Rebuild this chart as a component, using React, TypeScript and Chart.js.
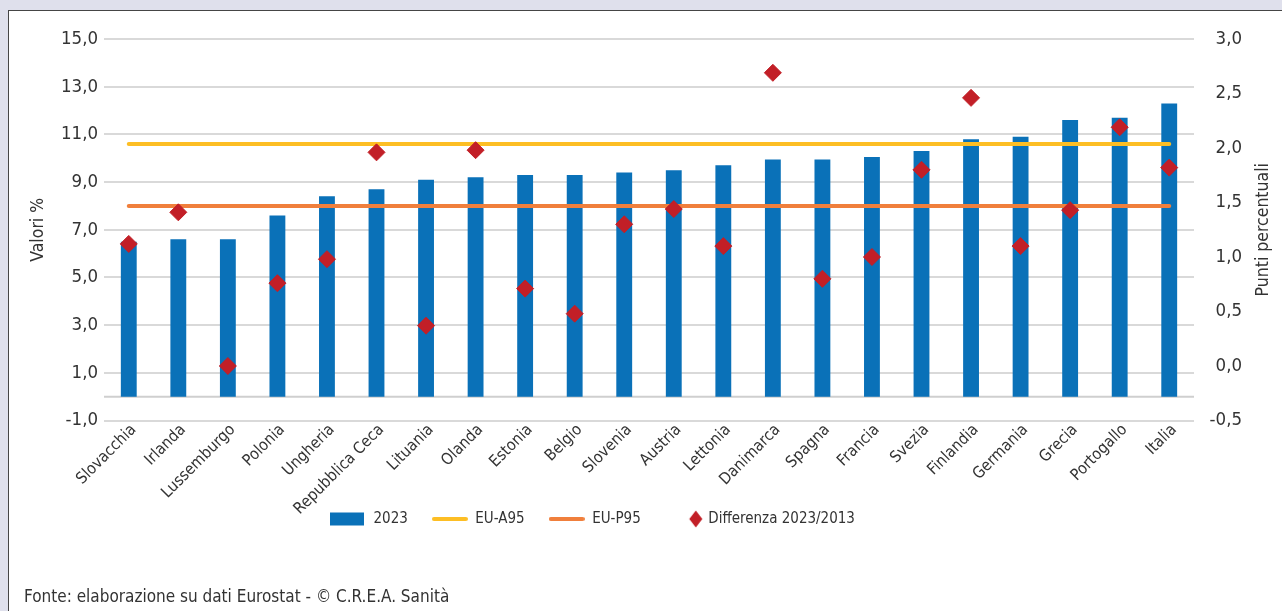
import React, { useEffect, useRef } from "react";
import { Chart, registerables } from "chart.js";

Chart.register(...registerables);

// ---- Data ----
const categories = [
  "Slovacchia", "Irlanda", "Lussemburgo", "Polonia", "Ungheria", "Repubblica Ceca",
  "Lituania", "Olanda", "Estonia", "Belgio", "Slovenia", "Austria", "Lettonia",
  "Danimarca", "Spagna", "Francia", "Svezia", "Finlandia", "Germania", "Grecia",
  "Portogallo", "Italia",
];
const values2023 = [
  6.5, 6.6, 6.6, 7.6, 8.4, 8.7, 9.1, 9.2, 9.3, 9.3, 9.4, 9.5, 9.7,
  9.95, 9.95, 10.05, 10.3, 10.8, 10.9, 11.6, 11.7, 12.3,
];
const diff20232013 = [
  1.12, 1.41, 0.0, 0.76, 0.98, 1.96, 0.37, 1.98, 0.71, 0.48, 1.3, 1.44, 1.1,
  2.69, 0.8, 1.0, 1.8, 2.46, 1.1, 1.43, 2.19, 1.82,
];
const euA95Value = 10.6;
const euP95Value = 8.0;
const legendLabels = ["2023", "EU-A95", "EU-P95", "Differenza 2023/2013"];
const leftAxisTitle = "Valori %";
const rightAxisTitle = "Punti percentuali";
const sourceNote = "Fonte: elaborazione su dati Eurostat - © C.R.E.A. Sanità";

// ---- Styles ----
const FONT = "'DejaVu Sans Condensed', 'Liberation Sans Narrow', 'Arial Narrow', sans-serif";
const TEXT = "#333333";
const BLUE = "#0a71b8";
const YELLOW = "#fdbe24";
const ORANGE = "#f07f3c";
const RED = "#c21f27";
const GRID = "#d9d9d9";

const CANVAS_W = 1273;
const CANVAS_H = 600;
const PLOT_BOTTOM = 409.5;
const LEGEND_FONT = 15;
const LEGEND_PAD = 24;
const LEGEND_START_X = 321;
const LEGEND_CENTER_Y = 508;

const fmt = (v: any) => Number(v).toFixed(1).replace(".", ",");

function makeIcon(kind: string, color: string): HTMLCanvasElement {
  const c = document.createElement("canvas");
  const ctx = c.getContext("2d")!;
  if (kind === "rect") {
    c.width = 36; c.height = 18;
    ctx.fillStyle = color;
    ctx.fillRect(0, 2.5, 34, 13);
  } else if (kind === "line") {
    c.width = 36; c.height = 18;
    ctx.strokeStyle = color;
    ctx.lineWidth = 4;
    ctx.lineCap = "round";
    ctx.beginPath();
    ctx.moveTo(2, 9);
    ctx.lineTo(34, 9);
    ctx.stroke();
  } else {
    c.width = 40; c.height = 20;
    ctx.fillStyle = color;
    ctx.beginPath();
    ctx.moveTo(33, 1.5);
    ctx.lineTo(39.5, 10);
    ctx.lineTo(33, 18.5);
    ctx.lineTo(26.5, 10);
    ctx.closePath();
    ctx.fill();
  }
  return c;
}

const layoutPlugin = {
  id: "customLayout",
  afterLayout(chart: any) {
    const lg = chart.legend;
    if (!lg) return;
    const h = lg.height;
    lg.left = LEGEND_START_X - LEGEND_PAD;
    lg.right = chart.width;
    lg.top = LEGEND_CENTER_Y - LEGEND_PAD - LEGEND_FONT / 2;
    lg.bottom = lg.top + h;
  },
  beforeDatasetsDraw(chart: any) {
    const { ctx, chartArea } = chart;
    const y = chart.scales.y.getPixelForValue(0);
    ctx.save();
    ctx.strokeStyle = "#cfcfcf";
    ctx.lineWidth = 2;
    ctx.beginPath();
    ctx.moveTo(chartArea.left, y);
    ctx.lineTo(chartArea.right, y);
    ctx.stroke();
    ctx.restore();
  },
  afterDraw(chart: any) {
    const { ctx, chartArea } = chart;
    const cy = (chartArea.top + chartArea.bottom) / 2;
    ctx.save();
    ctx.fillStyle = TEXT;
    ctx.font = `17.5px ${FONT}`;
    ctx.textAlign = "center";
    ctx.textBaseline = "middle";
    ctx.save();
    ctx.translate(29, cy);
    ctx.rotate(-Math.PI / 2);
    ctx.fillText(leftAxisTitle, 0, 0);
    ctx.restore();
    ctx.save();
    ctx.translate(1254, cy);
    ctx.rotate(-Math.PI / 2);
    ctx.fillText(rightAxisTitle, 0, 0);
    ctx.restore();
    ctx.font = `17px ${FONT}`;
    ctx.textAlign = "left";
    ctx.fillText(sourceNote, 15, 587);
    ctx.restore();
  },
};

export default function App() {
  const ref = useRef<HTMLCanvasElement | null>(null);

  useEffect(() => {
    if (!ref.current) return;
    Chart.defaults.font.family = FONT;
    Chart.defaults.color = TEXT;

    const icons = [
      makeIcon("rect", BLUE),
      makeIcon("line", YELLOW),
      makeIcon("line", ORANGE),
      makeIcon("diamond", RED),
    ];

    const chart = new Chart(ref.current, {
      type: "bar",
      data: {
        labels: categories,
        datasets: [
          {
            type: "line",
            label: legendLabels[3],
            data: diff20232013,
            yAxisID: "y1",
            showLine: false,
            pointStyle: "rectRot",
            pointRadius: 8.5,
            pointBackgroundColor: RED,
            pointBorderColor: RED,
            pointBorderWidth: 1,
            order: 1,
          } as any,
          {
            type: "line",
            label: legendLabels[1],
            data: categories.map(() => euA95Value),
            yAxisID: "y",
            borderColor: YELLOW,
            borderWidth: 4,
            borderCapStyle: "round",
            pointRadius: 0,
            order: 2,
          } as any,
          {
            type: "line",
            label: legendLabels[2],
            data: categories.map(() => euP95Value),
            yAxisID: "y",
            borderColor: ORANGE,
            borderWidth: 4,
            borderCapStyle: "round",
            pointRadius: 0,
            order: 2,
          } as any,
          {
            type: "bar",
            label: legendLabels[0],
            data: values2023,
            yAxisID: "y",
            backgroundColor: BLUE,
            barPercentage: 0.32,
            categoryPercentage: 1,
            order: 3,
          } as any,
        ],
      },
      options: {
        responsive: false,
        animation: false,
        events: [],
        layout: { padding: { top: 28, left: 0, right: 40, bottom: 0 } },
        plugins: {
          tooltip: { enabled: false },
          title: { display: false },
          legend: {
            display: true,
            position: "bottom",
            align: "start",
            labels: {
              usePointStyle: true,
              pointStyleWidth: 36,
              padding: LEGEND_PAD,
              color: TEXT,
              font: { size: LEGEND_FONT, family: FONT },
              generateLabels: () =>
                legendLabels.map((t, i) => ({
                  text: t,
                  pointStyle: icons[i],
                  fillStyle: "transparent",
                  strokeStyle: "transparent",
                  lineWidth: 0,
                  hidden: false,
                  fontColor: TEXT,
                  datasetIndex: i,
                })) as any,
            },
          },
        },
        scales: {
          x: {
            grid: { display: false },
            border: { display: false },
            ticks: {
              color: TEXT,
              font: { size: 16, family: FONT },
              minRotation: 45,
              maxRotation: 45,
              autoSkip: false,
              padding: -8,
              labelOffset: 5,
            },
            afterFit: (s: any) => {
              s.height = CANVAS_H - PLOT_BOTTOM - (LEGEND_FONT + LEGEND_PAD + 10);
            },
          },
          y: {
            position: "left",
            min: -1,
            max: 15,
            ticks: {
              stepSize: 2,
              callback: fmt,
              padding: 6,
              color: TEXT,
              font: { size: 18.5, family: FONT },
            },
            grid: { color: GRID, lineWidth: 2, drawTicks: false },
            border: { display: false },
            afterFit: (s: any) => {
              s.width = 95;
            },
          },
          y1: {
            position: "right",
            min: -0.5,
            max: 3,
            ticks: {
              stepSize: 0.5,
              callback: fmt,
              padding: 10,
              crossAlign: "far",
              color: TEXT,
              font: { size: 18.5, family: FONT },
            },
            grid: { display: false, drawTicks: false },
            border: { display: false },
            afterFit: (s: any) => {
              s.width = 48;
            },
          },
        },
      } as any,
      plugins: [layoutPlugin],
    });

    return () => chart.destroy();
  }, []);

  return (
    <div style={{ position: "fixed", inset: 0, background: "#dfe0ec" }}>
      <div
        style={{
          position: "absolute",
          left: 8,
          top: 10,
          right: 0,
          bottom: 0,
          background: "#ffffff",
          borderTop: "1px solid #454545",
          borderLeft: "1px solid #454545",
        }}
      >
        <canvas ref={ref} width={CANVAS_W} height={CANVAS_H} style={{ display: "block" }} />
      </div>
    </div>
  );
}
